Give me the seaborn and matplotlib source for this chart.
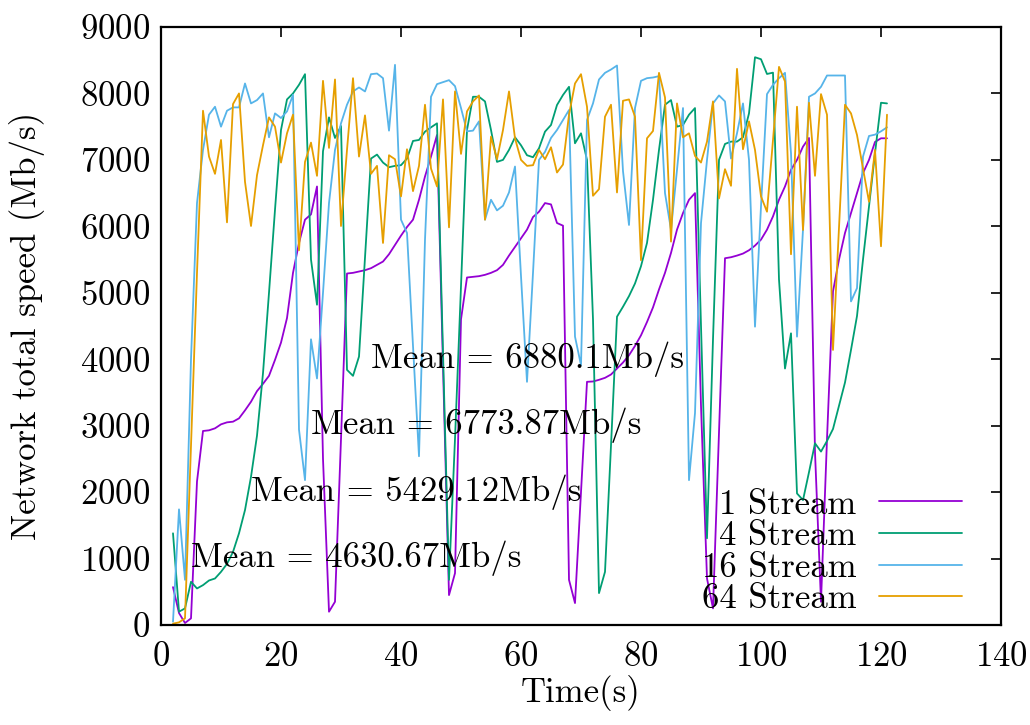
import numpy as np
import pandas as pd
import matplotlib
matplotlib.use("Agg")
import matplotlib.pyplot as plt
import seaborn as sns

time_s = list(range(2, 122))

stream_1 = [570, 180, 30, 100, 2160, 2920, 2930, 2960, 3020, 3050,
            3060, 3110, 3230, 3360, 3520, 3630, 3750, 3990, 4250, 4620,
            5300, 5750, 6100, 6180, 6600, 2500, 200, 350, 2800, 5290,
            5300, 5320, 5340, 5370, 5420, 5470, 5580, 5720, 5860, 5990,
            6100, 6400, 6750, 7050, 7375, 3900, 450, 780, 4600, 5230,
            5240, 5250, 5270, 5300, 5340, 5420, 5560, 5690, 5820, 5950,
            6140, 6220, 6350, 6330, 6050, 6010, 680, 330, 2000, 3660,
            3665, 3690, 3720, 3770, 3860, 3950, 4060, 4200, 4360, 4560,
            4780, 5050, 5300, 5600, 5950, 6200, 6400, 6500, 3300, 700,
            250, 2900, 5520, 5535, 5560, 5590, 5640, 5710, 5800, 5950,
            6150, 6400, 6600, 6850, 7000, 7200, 7330, 2600, 350, 2800,
            5020, 5500, 5900, 6200, 6500, 6800, 7000, 7270, 7325, 7325]

stream_4 = [1380, 200, 250, 650, 550, 600, 670, 700, 800, 920,
            1100, 1380, 1730, 2230, 2850, 3790, 5000, 6250, 7450, 7910,
            8000, 8130, 8290, 5500, 4820, 7130, 7640, 7330, 7510, 3840,
            3750, 4040, 5530, 7020, 7080, 6960, 6890, 6910, 6920, 7020,
            7285, 7300, 7425, 7490, 7550, 4100, 680, 2800, 5100, 7450,
            7950, 7950, 7880, 7450, 6970, 7000, 7150, 7340, 7220, 7070,
            7040, 7175, 7425, 7525, 7826, 7977, 8100, 7250, 7400, 7000,
            4600, 480, 800, 2700, 4640, 4790, 4950, 5140, 5400, 5750,
            6400, 7150, 7830, 7900, 7500, 7525, 7680, 7780, 4500, 1305,
            4300, 7000, 7240, 7275, 7275, 7340, 7700, 8545, 8515, 8293,
            8313, 5200, 3860, 4390, 1980, 1880, 2300, 2735, 2610, 2770,
            2950, 3300, 3650, 4140, 4650, 5500, 6300, 7100, 7860, 7850]

stream_16 = [50, 1740, 680, 4000, 6350, 7150, 7680, 7800, 7500, 7740,
             7790, 7790, 8150, 7850, 7900, 8000, 7340, 7700, 7630, 7730,
             7980, 2940, 2180, 4300, 3710, 5000, 6350, 7150, 7550, 7830,
             8030, 8090, 8030, 8290, 8300, 8230, 7440, 8430, 6100, 5900,
             4200, 2540, 5800, 7950, 8140, 8170, 8200, 8110, 7780, 7430,
             7440, 7580, 6100, 6400, 6240, 6310, 6510, 6900, 5250, 3660,
             5300, 7000, 7120, 7330, 7450, 7600, 7750, 4340, 3910, 7600,
             7850, 8210, 8310, 8360, 8420, 6830, 6020, 7780, 8190, 8230,
             8240, 8260, 6500, 5950, 6850, 7780, 2180, 3190, 6050, 7000,
             7850, 7970, 7880, 7020, 7400, 7850, 7000, 4490, 6300, 7990,
             8130, 8230, 8310, 7100, 4340, 5950, 7950, 8000, 8100, 8270,
             8270, 8270, 8270, 4870, 5070, 7050, 7360, 7380, 7430, 7490]

stream_64 = [20, 40, 100, 2700, 5300, 7740, 7050, 6790, 7300, 6060,
             7840, 8000, 6670, 6005, 6770, 7220, 7640, 7500, 6960, 7400,
             7680, 5640, 6970, 7260, 6760, 8190, 7180, 8210, 6005, 7150,
             8230, 7050, 7670, 6790, 6910, 5750, 7070, 7010, 6450, 7160,
             6530, 6910, 7830, 6870, 6600, 7910, 5985, 8030, 7090, 7730,
             7880, 7970, 6100, 7350, 7010, 7450, 8030, 7325, 7000, 6910,
             6920, 7150, 7010, 7190, 6810, 6930, 7680, 8150, 8290, 7800,
             6460, 6560, 7650, 7830, 6510, 7890, 7910, 7650, 5490, 7325,
             7435, 8310, 7940, 5770, 7850, 7340, 7400, 7060, 6960, 7275,
             7880, 6420, 6860, 6610, 8370, 7160, 7580, 7150, 6450, 6220,
             7300, 8400, 8180, 5580, 7800, 5945, 7860, 6760, 7990, 7680,
             4140, 5980, 7830, 7700, 7375, 6870, 6370, 7150, 5700, 7680]

series_names = ["1 Stream", "4 Stream", "16 Stream", "64 Stream"]
series_colors = ["#9400D3", "#009E73", "#56B4E9", "#E69F00"]
mean_labels = ["Mean = 4630.67Mb/s", "Mean = 5429.12Mb/s",
               "Mean = 6773.87Mb/s", "Mean = 6880.1Mb/s"]
mean_label_x = [5, 15, 25, 35]
mean_label_y = [1000, 2000, 3000, 4000]

df = pd.concat([
    pd.DataFrame({"Time": time_s, "Speed": vals, "Series": name})
    for name, vals in zip(series_names, [stream_1, stream_4, stream_16, stream_64])
], ignore_index=True)

sns.set_style("white")
plt.rcParams["font.family"] = ["cmr10", "DejaVu Serif"]
plt.rcParams["axes.formatter.use_mathtext"] = True
plt.rcParams["mathtext.fontset"] = "cm"
for k in ["text.color", "axes.labelcolor", "xtick.color", "ytick.color"]:
    plt.rcParams[k] = "black"

fig = plt.figure(figsize=(10.30, 7.25), dpi=100)
ax = fig.add_axes([161 / 1030, 1 - 625 / 725, 840 / 1030, 598 / 725])

sns.lineplot(data=df, x="Time", y="Speed", hue="Series", hue_order=series_names,
             palette=series_colors, estimator=None, sort=False, linewidth=1.3,
             ax=ax)

fs = 25
for lbl, lx, ly in zip(mean_labels, mean_label_x, mean_label_y):
    ax.text(lx, ly, lbl, fontsize=fs, ha="left", va="center", color="black")

ax.set_xlim(0, 140)
ax.set_ylim(0, 9000)
ax.set_xticks(range(0, 141, 20))
ax.set_yticks(range(0, 9001, 1000))
ax.tick_params(direction="in", top=True, right=True, length=7, width=1.2,
               labelsize=fs, colors="black")
ax.tick_params(axis="x", pad=12)
ax.tick_params(axis="y", pad=8)
for sp in ax.spines.values():
    sp.set_linewidth(1.6)
    sp.set_color("black")
ax.set_xlabel("Time(s)", fontsize=fs, labelpad=1)
ax.set_ylabel("Network total speed (Mb/s)", fontsize=fs, labelpad=25)

handles, labels = ax.get_legend_handles_labels()
leg = ax.legend(handles, labels, loc="lower right", frameon=False,
                markerfirst=False, fontsize=fs, handlelength=2.4,
                handletextpad=0.65, labelspacing=0.0, borderpad=0,
                borderaxespad=0, bbox_to_anchor=(0.954, 0.016))
for h in leg.get_lines():
    h.set_linewidth(1.3)

fig.savefig("out.png", dpi=100)
